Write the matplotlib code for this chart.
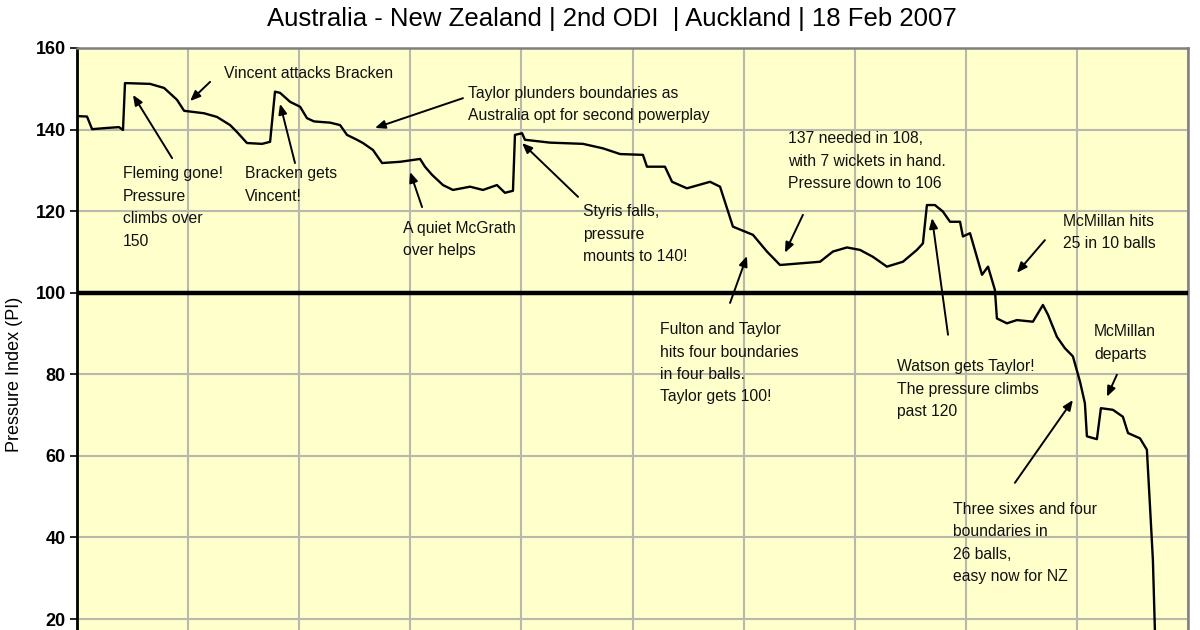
import matplotlib
matplotlib.use("Agg")
import matplotlib.pyplot as plt

# ---- data (overs, pressure index) ----
overs = [0.0, 0.45, 0.68, 1.35, 1.89, 2.07, 2.16, 3.29, 3.92, 4.50, 4.82, 5.72, 6.30,
         6.89, 7.20, 7.65, 8.33, 8.69, 8.91, 9.14, 9.59, 10.04, 10.35, 10.67, 11.39,
         11.84, 12.15, 12.60, 12.87, 13.32, 13.73, 14.54, 15.44, 15.66, 15.98, 16.47,
         16.92, 17.69, 18.27, 18.90, 19.26, 19.62, 19.71, 20.03, 20.16, 21.29, 22.77,
         23.67, 24.44, 25.47, 25.65, 26.46, 26.78, 27.45, 28.49, 28.94, 29.52, 30.42,
         31.05, 31.64, 32.54, 33.44, 34.02, 34.65, 35.24, 35.82, 36.45, 37.17, 37.80,
         38.07, 38.25, 38.61, 38.97, 39.29, 39.74, 39.87, 40.19, 40.73, 41.00, 41.31,
         41.40, 41.85, 42.30, 43.02, 43.47, 43.70, 44.10, 44.46, 44.82, 45.14, 45.36,
         45.45, 45.90, 46.08, 46.62, 47.07, 47.30, 47.84, 48.15, 48.29, 48.42, 48.51,
         48.60]
pressure = [143.3, 143.2, 140.1, 140.4, 140.6, 139.9, 151.4, 151.2, 150.2, 147.3, 144.6,
            144.0, 143.1, 141.1, 139.4, 136.7, 136.5, 137.0, 149.3, 149.0, 146.8, 145.6,
            142.8, 142.0, 141.7, 141.1, 138.7, 137.5, 136.7, 135.0, 131.8, 132.1, 132.8,
            130.9, 128.9, 126.4, 125.2, 126.0, 125.2, 126.4, 124.5, 125.0, 138.7, 139.1,
            137.5, 136.8, 136.5, 135.4, 134.0, 133.8, 130.9, 130.9, 127.2, 125.6, 127.2,
            126.0, 116.2, 114.2, 110.1, 106.8, 107.2, 107.6, 110.1, 111.1, 110.5, 108.8,
            106.4, 107.6, 110.5, 112.1, 121.5, 121.5, 119.9, 117.4, 117.4, 113.8, 114.6,
            104.4, 106.4, 100.7, 93.7, 92.5, 93.3, 92.9, 97.0, 94.6, 89.2, 86.4, 84.4,
            78.2, 72.9, 64.8, 64.1, 71.7, 71.3, 69.6, 65.6, 64.3, 61.5, 47.6, 34.5, 17.4,
            0.0]
y_ticks = [20, 40, 60, 80, 100, 120, 140, 160]
x_grid = [0, 5, 10, 15, 20, 25, 30, 35, 40, 45, 50]
title = "Australia - New Zealand | 2nd ODI  | Auckland | 18 Feb 2007"
y_label = "Pressure Index (PI)"
baseline = 100

# (text, text position, arrow tail, arrow head) in data coordinates
notes = [
    ("Vincent attacks Bracken", (6.62, 155.6), (5.99, 151.7), (5.09, 147.0)),
    ("Fleming gone!\nPressure\nclimbs over\n150", (2.07, 131.0), (4.28, 133.0), (2.52, 148.5)),
    ("Bracken gets\nVincent!", (7.56, 131.0), (9.81, 131.8), (9.14, 146.3)),
    ("Taylor plunders boundaries as\nAustralia opt for second powerplay", (17.60, 150.8), (17.37, 147.7), (13.41, 140.4)),
    ("A quiet McGrath\nover helps", (14.67, 117.6), (15.53, 121.0), (14.99, 129.6)),
    ("Styris falls,\npressure\nmounts to 140!", (22.77, 121.7), (22.55, 123.5), (20.03, 136.7)),
    ("137 needed in 108,\nwith 7 wickets in hand.\nPressure down to 106", (32.0, 139.6), (32.67, 119.1), (31.86, 109.8)),
    ("McMillan hits\n25 in 10 balls", (44.37, 119.3), (43.56, 112.9), (42.30, 104.9)),
    ("Fulton and Taylor\nhits four boundaries\nin four balls.\nTaylor gets 100!", (26.24, 92.8), (29.39, 97.5), (30.15, 109.0)),
    ("Watson gets Taylor!\nThe pressure climbs\npast 120", (36.90, 83.7), (39.2, 89.7), (38.48, 118.3)),
    ("McMillan\ndeparts", (45.77, 92.3), (46.8, 79.9), (46.35, 74.5)),
    ("Three sixes and four\nboundaries in\n26 balls,\neasy now for NZ", (39.42, 48.7), (42.21, 53.4), (44.82, 73.7)),
]

plt.rcParams['font.family'] = ['Liberation Sans', 'DejaVu Sans']

fig = plt.figure(figsize=(12, 6.3), dpi=100)
ax = fig.add_axes([77 / 1200, 0.0, (1188 - 77) / 1200, 1 - 48 / 630])
ax.set_facecolor('#FFFFCC')
ax.set_xlim(0, 50)
ax.set_ylim(160 - (630 - 48) / 4.079, 160)

ax.set_yticks(y_ticks)
ax.set_yticklabels([str(v) for v in y_ticks], fontweight='bold', fontsize=13)
ax.set_xticks(x_grid)
ax.tick_params(axis='x', bottom=False, labelbottom=False)
ax.tick_params(axis='y', length=5, width=1.2, direction='out', pad=3)
ax.grid(True, color='#B8B8AC', linewidth=1.5)
ax.set_axisbelow(True)

for s in ['top', 'right']:
    ax.spines[s].set_color('#7F7F7F')
    ax.spines[s].set_linewidth(1.8)
ax.spines['left'].set_linewidth(2.0)
ax.spines['bottom'].set_visible(False)

ax.axhline(baseline, color='black', linewidth=3.2, zorder=3)
ax.plot(overs, pressure, color='black', linewidth=1.7, zorder=4)

for txt, tpos, tail, head in notes:
    ax.text(tpos[0], tpos[1], txt, ha='left', va='top', fontsize=11.3,
            linespacing=1.62, color='#111111', zorder=5)
    ax.annotate('', xy=head, xytext=tail,
                arrowprops=dict(arrowstyle='-|>,head_length=0.6,head_width=0.25',
                                color='black', lw=1.4, shrinkA=0, shrinkB=0),
                zorder=5)

fig.text(612 / 1200, 1 - 19 / 630, title, ha='center', va='center', fontsize=18.5)
fig.text(15 / 1200, 1 - 374 / 630, y_label, rotation=90, ha='center', va='center',
         fontsize=13)

fig.savefig('out.png', dpi=100)
